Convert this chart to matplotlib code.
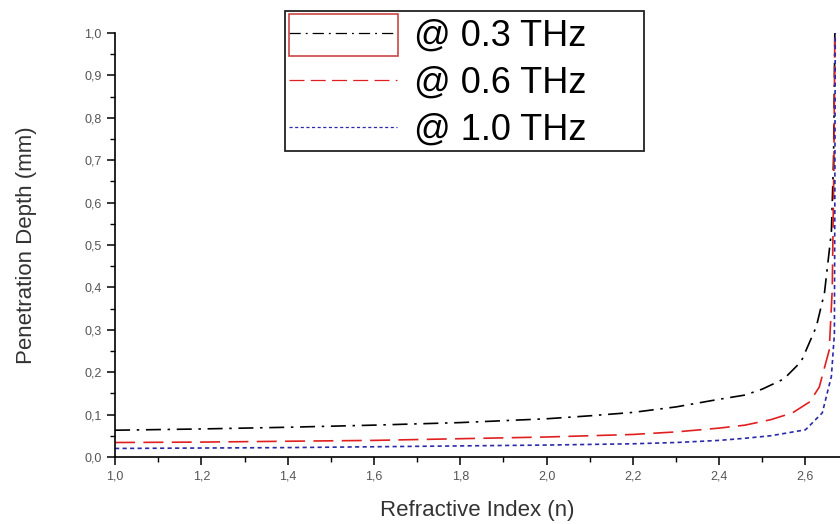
import matplotlib.pyplot as plt
from matplotlib.patches import Rectangle
from matplotlib.ticker import MultipleLocator, FuncFormatter

plt.rcParams['font.family'] = ['Liberation Sans', 'DejaVu Sans']

# values
n_03 = [1.0, 1.2, 1.4, 1.6, 1.8, 2.0, 2.1, 2.2, 2.3, 2.4, 2.46, 2.5, 2.55,
        2.59, 2.625, 2.644, 2.66, 2.665, 2.667, 2.668]
d_03 = [0.063, 0.066, 0.070, 0.075, 0.081, 0.090, 0.097, 0.105, 0.118,
        0.136, 0.146, 0.160, 0.184, 0.225, 0.307, 0.387, 0.53, 0.70, 0.88, 1.0]

n_06 = [1.0, 1.2, 1.4, 1.6, 1.8, 2.0, 2.2, 2.3, 2.4, 2.46, 2.52, 2.57,
        2.61, 2.632, 2.655, 2.662, 2.666, 2.668]
d_06 = [0.034, 0.035, 0.037, 0.039, 0.043, 0.047, 0.053, 0.059, 0.068,
        0.075, 0.088, 0.104, 0.130, 0.165, 0.252, 0.394, 0.70, 1.0]

n_10 = [1.0, 1.2, 1.4, 1.6, 1.8, 2.0, 2.2, 2.3, 2.4, 2.46, 2.52, 2.6,
        2.639, 2.66, 2.667, 2.668, 2.669]
d_10 = [0.020, 0.021, 0.022, 0.024, 0.026, 0.028, 0.031, 0.034, 0.039,
        0.044, 0.050, 0.064, 0.104, 0.19, 0.29, 0.60, 1.0]

labels = ['@ 0.3 THz', '@ 0.6 THz', '@ 1.0 THz']

fig = plt.figure(figsize=(8.4, 5.24), dpi=100)
ax = fig.add_axes([0.137, 0.128, 0.863, 0.809])

ax.plot(n_03, d_03, color='black', lw=1.2, dashes=(9, 4, 1.5, 4), label=labels[0])
ax.plot(n_06, d_06, color='#e02020', lw=1.2, dashes=(12, 5), label=labels[1])
ax.plot(n_10, d_10, color='#2a2aa8', lw=1.2, dashes=(2.5, 2), label=labels[2])

ax.set_xlim(1.0, 2.68)
ax.set_ylim(0.0, 1.0)
for s in ['top', 'right']:
    ax.spines[s].set_visible(False)
ax.spines['left'].set_linewidth(1.2)
ax.spines['bottom'].set_linewidth(1.2)

ax.xaxis.set_major_locator(MultipleLocator(0.2))
ax.xaxis.set_minor_locator(MultipleLocator(0.1))
ax.yaxis.set_major_locator(MultipleLocator(0.1))
ax.yaxis.set_minor_locator(MultipleLocator(0.05))
comma = FuncFormatter(lambda v, p: ('%.1f' % v).replace('.', ','))
ax.xaxis.set_major_formatter(comma)
ax.yaxis.set_major_formatter(comma)
ax.tick_params(which='major', direction='out', length=6, width=1.1,
               labelsize=9, labelcolor='#555555')
ax.tick_params(which='minor', direction='out', length=3.5, width=1.0)

ax.set_xlabel('Refractive Index (n)', fontsize=16, color='#333333', labelpad=13)
ax.set_ylabel('Penetration Depth (mm)', fontsize=16, color='#333333', labelpad=34)

leg = ax.legend(loc='upper left', bbox_to_anchor=(289 / 840, 1 - 19 / 524),
                bbox_transform=fig.transFigure, fontsize=26, frameon=False,
                handlelength=3.0, handletextpad=0.45, labelspacing=0.33,
                borderpad=0, borderaxespad=0)
for h in leg.get_lines():
    h.set_linewidth(0.9)

# legend frame (wider than the text, as in the reference)
fig.patches.append(Rectangle((285 / 840, 1 - 151 / 524), 359 / 840, 140 / 524,
                             transform=fig.transFigure, fill=False,
                             edgecolor='#222222', lw=1.3, zorder=9))
# red selection box around the first legend sample
fig.patches.append(Rectangle((289 / 840, 1 - 56 / 524), 109 / 840, 42 / 524,
                             transform=fig.transFigure, fill=False,
                             edgecolor='#cc4444', lw=1.2, zorder=10))

fig.savefig('out.png', dpi=100)
